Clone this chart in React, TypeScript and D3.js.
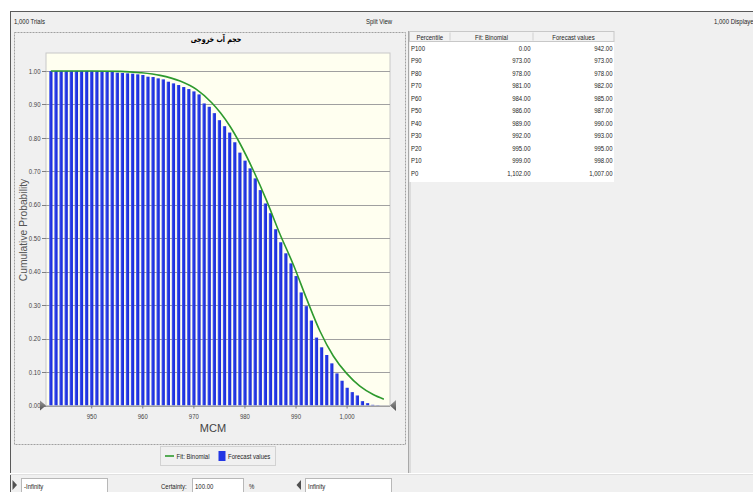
import React from 'react';
import * as d3 from 'd3';

const W = 753;
const H = 492;

// Forecast values: reverse cumulative probability at each integer value (MCM)
const forecastX = [
  942, 943, 944, 945, 946, 947, 948, 949, 950, 951, 952, 953, 954, 955, 956, 957,
  958, 959, 960, 961, 962, 963, 964, 965, 966, 967, 968, 969, 970, 971, 972, 973,
  974, 975, 976, 977, 978, 979, 980, 981, 982, 983, 984, 985, 986, 987, 988, 989,
  990, 991, 992, 993, 994, 995, 996, 997, 998, 999, 1000, 1001, 1002, 1003, 1004,
  1005, 1006,
];
const forecastP = [
  1.0, 1.0, 1.0, 1.0, 1.0, 1.0, 1.0, 1.0, 1.0, 1.0, 1.0, 0.999, 0.998, 0.995, 0.994, 0.993,
  0.992, 0.99, 0.988, 0.983, 0.982, 0.978, 0.975, 0.968, 0.963, 0.958, 0.952, 0.946, 0.939, 0.93, 0.903, 0.893,
  0.874, 0.853, 0.835, 0.816, 0.787, 0.756, 0.732, 0.709, 0.679, 0.644, 0.604, 0.575, 0.527, 0.488, 0.455, 0.425,
  0.387, 0.338, 0.297, 0.254, 0.203, 0.174, 0.151, 0.126, 0.096, 0.074, 0.053, 0.04, 0.03, 0.013, 0.007,
  0.002, 0.001,
];

// Fitted binomial reverse cumulative curve
const fitX = [942, 950, 955.6, 959.5, 963.4, 967.3, 970.5, 973.5, 975.2, 977.1, 979.0, 981.6, 984.2, 986.7, 989.5, 992.1, 994.7, 997.3, 999.9, 1002.5, 1005.1, 1007.2];
const fitP = [1.0, 1.0, 0.999, 0.995, 0.987, 0.97, 0.945, 0.905, 0.875, 0.834, 0.784, 0.704, 0.614, 0.518, 0.42, 0.318, 0.222, 0.148, 0.096, 0.058, 0.033, 0.019];

const yTicks = [0, 0.1, 0.2, 0.3, 0.4, 0.5, 0.6, 0.7, 0.8, 0.9, 1.0];
const xTicks = [950, 960, 970, 980, 990, 1000];

const percentileLabels = ['P100', 'P90', 'P80', 'P70', 'P60', 'P50', 'P40', 'P30', 'P20', 'P10', 'P0'];
const fitPercentiles = ['0.00', '973.00', '978.00', '981.00', '984.00', '986.00', '989.00', '992.00', '995.00', '999.00', '1,102.00'];
const forecastPercentiles = ['942.00', '973.00', '978.00', '982.00', '985.00', '987.00', '990.00', '993.00', '995.00', '998.00', '1,007.00'];

const FONT = "'Liberation Sans', Arial, sans-serif";
const TXT = '#1e1e1e';

const plot = { left: 46, right: 390, top: 53, bottom: 405.5 };

// Narrow UI label: regular sans squeezed horizontally around its anchor point
function N({
  x,
  y,
  size = 7.5,
  anchor = 'start',
  fill = TXT,
  dy,
  children,
}: {
  x: number;
  y: number;
  size?: number;
  anchor?: 'start' | 'middle' | 'end';
  fill?: string;
  dy?: string;
  children: React.ReactNode;
}) {
  return (
    <text transform={`translate(${x},${y}) scale(0.8,1)`} fontSize={size} textAnchor={anchor} fill={fill} dy={dy}>
      {children}
    </text>
  );
}

export default function App() {
  const x = d3.scaleLinear().domain([941.05, 1008.4]).range([plot.left, plot.right]);
  const y = d3.scaleLinear().domain([0, 1]).range([plot.bottom, 71]);
  const barW = 3.3;

  const fitLine = d3
    .line<number>()
    .x((_, i) => x(fitX[i]))
    .y((d) => y(d))
    .curve(d3.curveMonotoneX)(fitP) as string;

  const fmtY = d3.format('.2f');
  const fmtX = d3.format(',');

  const rowH = 12.5;
  const tblL = 409.5;
  const col1 = 450;
  const col2 = 533;
  const tblR = 614;
  const hdrTop = 31.5;
  const hdrBot = 41.5;

  return (
    <svg
      width={W}
      height={H}
      style={{ position: 'absolute', left: 0, top: 0, display: 'block' }}
      fontFamily={FONT}
    >
      <defs>
        <linearGradient id="barGrad" x1="0" x2="1" y1="0" y2="0">
          <stop offset="0" stopColor="#5566f2" />
          <stop offset="0.45" stopColor="#2236e4" />
          <stop offset="1" stopColor="#1a2cd6" />
        </linearGradient>
        <linearGradient id="grabGrad" x1="0" x2="0" y1="0" y2="1">
          <stop offset="0" stopColor="#9a9a9a" />
          <stop offset="1" stopColor="#505050" />
        </linearGradient>
        <clipPath id="plotClip">
          <rect x={plot.left} y={plot.top} width={plot.right - plot.left} height={plot.bottom - plot.top} />
        </clipPath>
      </defs>

      {/* window background */}
      <rect x={0} y={0} width={W} height={H} fill="#ffffff" />
      <rect x={10} y={11} width={W - 10} height={H - 11} fill="#f0f0f0" />
      <line x1={10} y1={11.5} x2={W} y2={11.5} stroke="#5a5a5a" strokeWidth={1} />
      <line x1={10.5} y1={11} x2={10.5} y2={H} stroke="#5a5a5a" strokeWidth={1} />

      {/* header strip */}
      <N x={14} y={24}>1,000 Trials</N>
      <N x={366} y={24}>Split View</N>
      <N x={714} y={24}>1,000 Displayed</N>

      {/* chart frame */}
      <rect x={14.5} y={32.5} width={391} height={412} fill="none" stroke="#a0a0a0" strokeDasharray="2,1" />

      {/* title */}
      <text
        transform="translate(216,42) scale(0.75,1)"
        fontSize={8.5}
        fontWeight="bold"
        textAnchor="middle"
        fontFamily="'DejaVu Sans', sans-serif"
        fill="#000"
      >
        حجم آب خروجی
      </text>

      {/* plot area */}
      <rect x={plot.left} y={plot.top} width={plot.right - plot.left} height={plot.bottom - plot.top} fill="#fffff0" stroke="#c8c8c8" />

      {/* gridlines */}
      {yTicks.map((t) => (
        <line key={`g${t}`} x1={plot.left} x2={plot.right} y1={Math.round(y(t)) + 0.5} y2={Math.round(y(t)) + 0.5} stroke="#a0a0a0" strokeWidth={1} />
      ))}

      {/* bars and fitted curve */}
      <g clipPath="url(#plotClip)">
        {forecastX.map((v, i) => (
          <rect
            key={v}
            x={x(v) - barW / 2}
            y={y(forecastP[i])}
            width={barW}
            height={y(0) - y(forecastP[i])}
            fill="url(#barGrad)"
          />
        ))}
        <path d={fitLine} fill="none" stroke="#2e9a2e" strokeWidth={1.6} />
      </g>

      {/* y axis */}
      {yTicks.map((t) => (
        <g key={`y${t}`}>
          <line x1={42} x2={plot.left} y1={Math.round(y(t)) + 0.5} y2={Math.round(y(t)) + 0.5} stroke="#808080" />
          <N x={40.5} y={y(t)} dy="0.35em" size={7.5} anchor="end" fill="#444">
            {fmtY(t)}
          </N>
        </g>
      ))}
      <text
        transform={`translate(26.5, ${230}) rotate(-90)`}
        textAnchor="middle"
        fontSize={10.3}
        fill="#555"
      >
        Cumulative Probability
      </text>

      {/* x axis */}
      {xTicks.map((t) => (
        <g key={`x${t}`}>
          <line x1={x(t)} x2={x(t)} y1={plot.bottom} y2={plot.bottom + 3} stroke="#808080" />
          <N x={x(t)} y={419} size={7.5} anchor="middle" fill="#444">
            {fmtX(t)}
          </N>
        </g>
      ))}
      <text x={213} y={432} fontSize={11} textAnchor="middle" fill="#444">
        MCM
      </text>

      {/* certainty grabbers */}
      <path d="M40,400.5 L46,405.5 L40,410.5 Z" fill="url(#grabGrad)" />
      <path d="M396,400 L390,405.5 L396,411 Z" fill="url(#grabGrad)" />

      {/* legend */}
      <rect x={160.5} y={446.5} width={115} height={19} fill="#f0f0f0" stroke="#d2d2d2" />
      <line x1={165} x2={174} y1={456} y2={456} stroke="#2e9a2e" strokeWidth={1.6} />
      <N x={176.5} y={459}>Fit: Binomial</N>
      <rect x={218.5} y={451} width={7} height={10} fill="#2236e4" />
      <N x={228} y={459}>Forecast values</N>

      {/* split separator */}
      <line x1={408.5} x2={408.5} y1={31} y2={473} stroke="#a8a8a8" strokeWidth={1} />
      <line x1={410} x2={410} y1={31} y2={473} stroke="#c8c8c8" strokeWidth={1} />

      {/* percentile table */}
      <rect x={tblL} y={hdrBot} width={tblR - tblL} height={rowH * percentileLabels.length + 3} fill="#ffffff" />
      <rect x={tblL} y={hdrTop} width={tblR - tblL} height={hdrBot - hdrTop} fill="#f2f2f2" stroke="#c8c8c8" />
      <line x1={col1} x2={col1} y1={hdrTop + 1} y2={hdrBot - 1} stroke="#d0d0d0" />
      <line x1={col2} x2={col2} y1={hdrTop + 1} y2={hdrBot - 1} stroke="#d0d0d0" />
      <N x={(tblL + col1) / 2} y={39.5} anchor="middle">Percentile</N>
      <N x={(col1 + col2) / 2} y={39.5} anchor="middle">Fit: Binomial</N>
      <N x={(col2 + tblR) / 2} y={39.5} anchor="middle">Forecast values</N>
      {percentileLabels.map((p, i) => {
        const cy = 48 + rowH * i;
        return (
          <g key={p}>
            <N x={411} y={cy} dy="0.35em">{p}</N>
            <N x={530.5} y={cy} dy="0.35em" anchor="end">{fitPercentiles[i]}</N>
            <N x={612.5} y={cy} dy="0.35em" anchor="end">{forecastPercentiles[i]}</N>
          </g>
        );
      })}

      {/* certainty controls */}
      <line x1={10} x2={W} y1={473.5} y2={473.5} stroke="#ffffff" />
      <line x1={10} x2={W} y1={474.5} y2={474.5} stroke="#e0e0e0" />
      <path d="M12.5,480 L17,485 L12.5,490 Z" fill="#505050" />
      <rect x={21.5} y={478.5} width={86} height={16} fill="#ffffff" stroke="#b8b8b8" />
      <N x={24} y={488.5}>-Infinity</N>
      <N x={161} y={488.5}>Certainty:</N>
      <rect x={192.5} y={478.5} width={51} height={16} fill="#ffffff" stroke="#b8b8b8" />
      <N x={195} y={488.5}>100.00</N>
      <N x={249} y={488.5}>%</N>
      <path d="M301,480 L296.5,485 L301,490 Z" fill="#505050" />
      <rect x={305.5} y={478.5} width={86} height={16} fill="#ffffff" stroke="#b8b8b8" />
      <N x={308} y={488.5}>Infinity</N>
    </svg>
  );
}
